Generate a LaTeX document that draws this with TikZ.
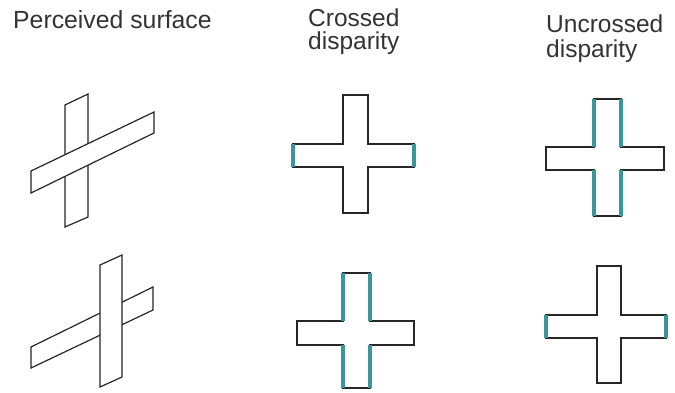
\documentclass[tikz,border=0pt]{standalone}
\usepackage{fontspec}
\setmainfont{Liberation Sans}
\usepackage{tikz}

\definecolor{rim}{RGB}{58,150,152}

\begin{document}
\begin{tikzpicture}[x=1pt, y=-1pt,
    bar/.style={draw=black!85, line width=1.2pt, fill=white, line join=miter},
    edge/.style={draw=rim, line width=4.4pt},
    title/.style={inner sep=0pt, align=left, text=black!80}]
  \useasboundingbox (0,0) rectangle (675,393);
  % Titles
  \node[title, anchor=base west, font=\fontsize{24.8}{24}\selectfont] (surf) at (13,29) {Perceived surface};
  \node[title, anchor=north west, font=\fontsize{24.5}{22.5}\selectfont] (cross) at (308,9) {Crossed\\disparity};
  \node[title, anchor=north west, font=\fontsize{24.5}{25}\selectfont] (uncross) at (546,15) {Uncrossed\\disparity};
  % Perceived surface, upper: slanted bar in front
  \draw[bar] (65,105) -- (88,94) -- (88,217) -- (65,227) -- cycle;
  \draw[bar] (31,171) -- (154,112) -- (154,133) -- (31,193) -- cycle;
  % Perceived surface, lower: upright bar in front
  \draw[bar] (31,347) -- (153,287) -- (153,310) -- (31,368) -- cycle;
  \draw[bar] (100,265) -- (122,255) -- (122,377) -- (100,387) -- cycle;
  % Crossed disparity, upper
  \draw[bar] (343,95) -- (368,95) -- (368,144) -- (414,144) -- (414,167) -- (368,167)
    -- (368,213) -- (343,213) -- (343,167) -- (293,167) -- (293,144) -- (343,144) -- cycle;
  \draw[edge] (293,144) -- (293,167);
  \draw[edge] (414,144) -- (414,167);
  % Crossed disparity, lower
  \draw[bar] (343,273) -- (370,273) -- (370,321) -- (414,321) -- (414,345) -- (370,345)
    -- (370,388) -- (343,388) -- (343,345) -- (297,345) -- (297,321) -- (343,321) -- cycle;
  \foreach \x in {343,370} {
    \draw[edge] (\x,273) -- (\x,321);
    \draw[edge] (\x,345) -- (\x,388);
  }
  % Uncrossed disparity, upper
  \draw[bar] (594,99) -- (621,99) -- (621,147) -- (664,147) -- (664,170) -- (621,170)
    -- (621,216) -- (594,216) -- (594,170) -- (546,170) -- (546,147) -- (594,147) -- cycle;
  \foreach \x in {594,621} {
    \draw[edge] (\x,99) -- (\x,147);
    \draw[edge] (\x,170) -- (\x,216);
  }
  % Uncrossed disparity, lower
  \draw[bar] (597,266) -- (621,266) -- (621,315) -- (666,315) -- (666,338) -- (621,338)
    -- (621,383) -- (597,383) -- (597,338) -- (546,338) -- (546,315) -- (597,315) -- cycle;
  \draw[edge] (546,315) -- (546,338);
  \draw[edge] (666,315) -- (666,338);
\end{tikzpicture}
\end{document}
